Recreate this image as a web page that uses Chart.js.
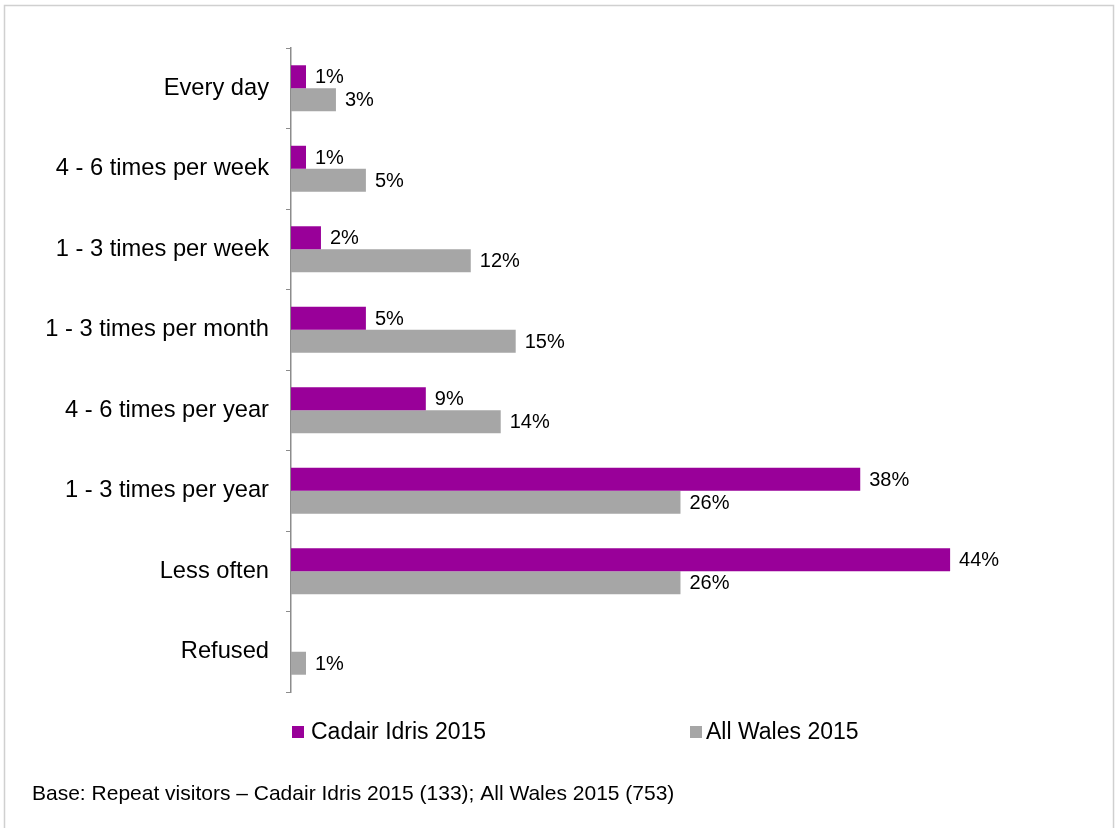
<!DOCTYPE html>
<html>
<head>
<meta charset="utf-8">
<title>Frequency of visits</title>
<script src="https://cdn.jsdelivr.net/npm/chart.js@4.4.1/dist/chart.umd.min.js"></script>
<style>
  html, body { margin: 0; padding: 0; background: #ffffff; }
  #wrap { position: relative; width: 1115px; height: 828px; }
  canvas { display: block; }
</style>
</head>
<body>
<div id="wrap"><canvas id="chart" width="1115" height="828"></canvas></div>
<script>
// Visit frequency categories (y axis)
const categories = [
  'Every day',
  '4 - 6 times per week',
  '1 - 3 times per week',
  '1 - 3 times per month',
  '4 - 6 times per year',
  '1 - 3 times per year',
  'Less often',
  'Refused'
];

// Share of repeat visitors, percent
const cadairIdris2015 = [1, 1, 2, 5, 9, 38, 44, null];
const allWales2015 = [3, 5, 12, 15, 14, 26, 26, 1];

const seriesNames = ['Cadair Idris 2015', 'All Wales 2015'];
const footnote = 'Base: Repeat visitors \u2013 Cadair Idris 2015 (133); All Wales 2015 (753)';

const PURPLE = '#990099';
const GREY = '#a6a6a6';
const FONT = '"Liberation Sans", Arial, Helvetica, sans-serif';

// Frame, value labels, legend and footnote
const decorations = {
  id: 'decorations',
  beforeDraw(chart) {
    const ctx = chart.ctx;
    ctx.save();
    ctx.fillStyle = '#ffffff';
    ctx.fillRect(0, 0, chart.width, chart.height);
    ctx.strokeStyle = '#d0d0d0';
    ctx.lineWidth = 1.5;
    ctx.strokeRect(4.5, 5.5, 1109, 900);
    ctx.restore();
  },
  afterDatasetsDraw(chart) {
    const ctx = chart.ctx;
    ctx.save();
    ctx.font = '20px ' + FONT;
    ctx.fillStyle = '#000000';
    ctx.textAlign = 'left';
    ctx.textBaseline = 'middle';
    chart.data.datasets.forEach((ds, di) => {
      const meta = chart.getDatasetMeta(di);
      meta.data.forEach((bar, i) => {
        const v = ds.data[i];
        if (v === null || v === undefined) return;
        ctx.fillText(v + '%', bar.x + 9, bar.y + 1);
      });
    });
    ctx.restore();
  },
  afterDraw(chart) {
    const ctx = chart.ctx;
    ctx.save();
    // legend
    const items = [
      { box: 292, text: 311 },
      { box: 690, text: 706 }
    ];
    ctx.font = '23px ' + FONT;
    ctx.textBaseline = 'middle';
    ctx.textAlign = 'left';
    chart.data.datasets.forEach((ds, di) => {
      const it = items[di];
      ctx.fillStyle = ds.backgroundColor;
      ctx.fillRect(it.box, 726, 12, 12);
      ctx.fillStyle = '#000000';
      ctx.fillText(ds.label, it.text, 733);
    });
    // footnote
    ctx.font = '21px ' + FONT;
    ctx.fillStyle = '#000000';
    ctx.fillText(footnote, 32, 794);
    ctx.restore();
  }
};

new Chart(document.getElementById('chart'), {
  type: 'bar',
  data: {
    labels: categories,
    datasets: [
      {
        label: seriesNames[0],
        data: cadairIdris2015,
        backgroundColor: PURPLE,
        categoryPercentage: 0.571,
        barPercentage: 1.0
      },
      {
        label: seriesNames[1],
        data: allWales2015,
        backgroundColor: GREY,
        categoryPercentage: 0.571,
        barPercentage: 1.0
      }
    ]
  },
  options: {
    indexAxis: 'y',
    responsive: false,
    animation: false,
    layout: { padding: { left: 0, top: 48, right: 75, bottom: 136 } },
    plugins: {
      legend: { display: false },
      tooltip: { enabled: false }
    },
    scales: {
      x: {
        display: false,
        min: 0,
        max: 50
      },
      y: {
        afterFit(scale) { scale.width = 291; },
        grid: {
          display: true,
          offset: true,
          drawOnChartArea: false,
          drawTicks: true,
          tickLength: 5,
          color: '#8c8c8c',
          lineWidth: 1
        },
        border: { display: true, color: '#8c8c8c', width: 1.5 },
        ticks: {
          padding: 17,
          color: '#000000',
          font: { family: FONT, size: 23.7 }
        }
      }
    }
  },
  plugins: [decorations]
});
</script>
</body>
</html>
